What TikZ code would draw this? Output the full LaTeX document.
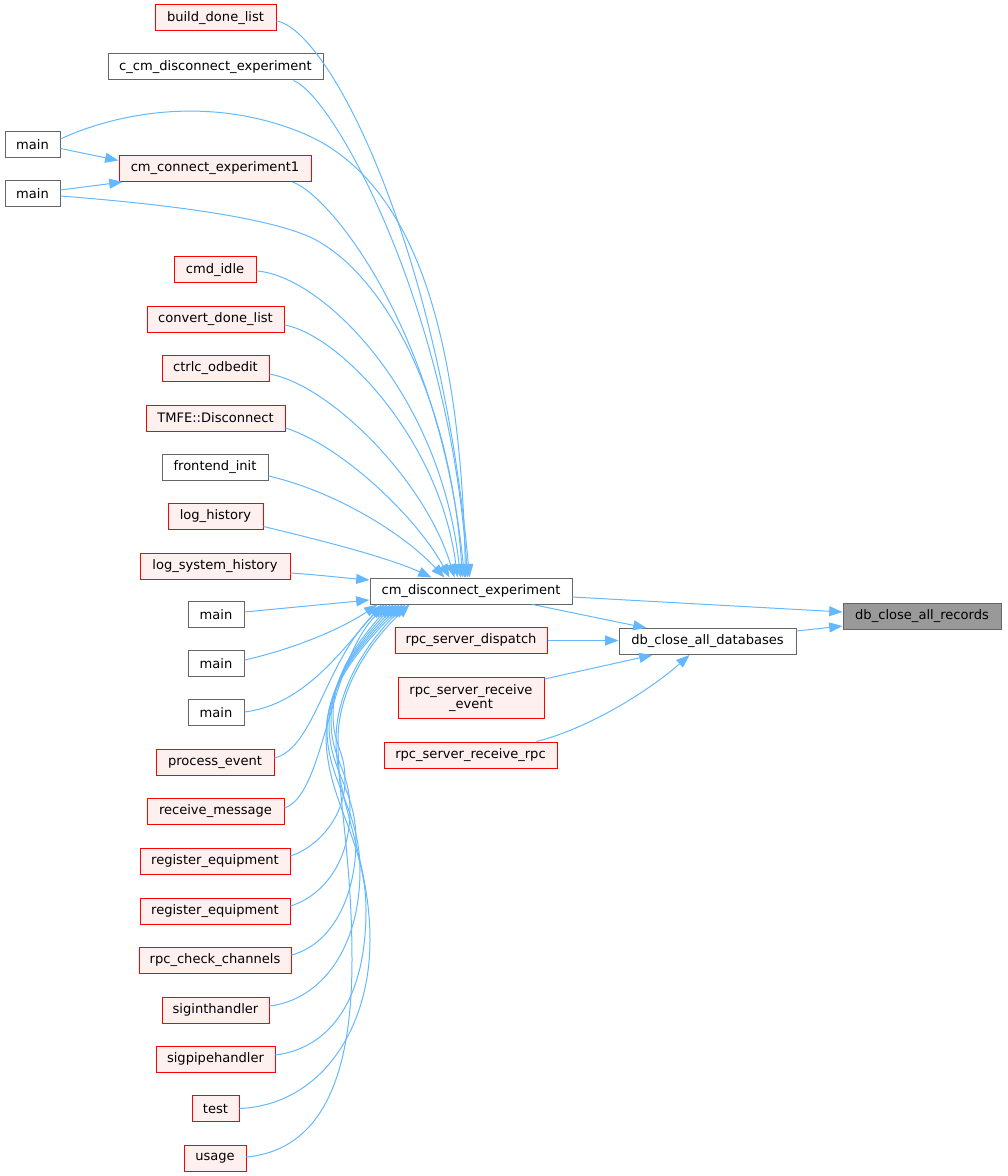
\documentclass[tikz,border=0pt]{standalone}
\usepackage{fontspec}
\setmainfont{DejaVu Sans}
\usetikzlibrary{arrows.meta,calc}
\definecolor{edgeblue}{HTML}{63B8FF}
\definecolor{redfill}{HTML}{FFF0F0}
\definecolor{redline}{HTML}{FF0000}
\definecolor{greyforty}{HTML}{666666}
\definecolor{greysixty}{HTML}{999999}
\newcommand{\fnfont}{\fontsize{9.8}{11}\selectfont}
\tikzset{
  fnbase/.style={line width=0.75pt, minimum height=19.5pt, inner sep=0pt, font=\fnfont, text=black, align=center},
  fnred/.style={fnbase, draw=redline, fill=redfill},
  fngrey/.style={fnbase, draw=greyforty, fill=white},
  fnroot/.style={fnbase, draw=greyforty, fill=greysixty},
  call/.style={draw=edgeblue, line width=0.75pt, -{Triangle[length=10pt,width=7.5pt]}, edgeblue}
}
\begin{document}
\begin{tikzpicture}[x=0.75pt,y=-0.75pt]
\useasboundingbox (0,0) rectangle (1007,1176);
% left column
\node[fnred,  minimum width=90.75pt]  (build)    at (215.5,18)   {build\_done\_list};
\node[fngrey, minimum width=161.25pt] (ccm)      at (215.5,67)   {c\_cm\_disconnect\_experiment};
\node[fngrey, minimum width=41.25pt]  (mainA)    at (32.5,144.5) {main};
\node[fnred,  minimum width=144pt]    (cmc)      at (215,168.5)  {cm\_connect\_experiment1};
\node[fngrey, minimum width=41.25pt]  (mainB)    at (32.5,194)   {main};
\node[fnred,  minimum width=61.5pt]   (idle)     at (215,270)    {cmd\_idle};
\node[fnred,  minimum width=102.75pt] (convert)  at (215.5,319.5) {convert\_done\_list};
\node[fnred,  minimum width=80.25pt]  (ctrlc)    at (215.5,368.5) {ctrlc\_odbedit};
\node[fnred,  minimum width=104.25pt] (tmfe)     at (215.5,418)  {TMFE::Disconnect};
\node[fngrey, minimum width=79.5pt]   (frontend) at (215,467)    {frontend\_init};
\node[fnred,  minimum width=71.25pt]  (loghist)  at (215.5,516.5) {log\_history};
\node[fnred,  minimum width=112.5pt]  (logsys)   at (215,566)    {log\_system\_history};
\node[fngrey, minimum width=42pt]     (mainC)    at (216,614.5)  {main};
\node[fngrey, minimum width=42pt]     (mainD)    at (216,663.5)  {main};
\node[fngrey, minimum width=42pt]     (mainE)    at (216,712.5)  {main};
\node[fnred,  minimum width=88.5pt]   (process)  at (215,762.5)  {process\_event};
\node[fnred,  minimum width=102.75pt] (receive)  at (215.5,811.5) {receive\_message};
\node[fnred,  minimum width=112.5pt]  (regA)     at (215,861)    {register\_equipment};
\node[fnred,  minimum width=112.5pt]  (regB)     at (215,911)    {register\_equipment};
\node[fnred,  minimum width=114pt]    (rpccheck) at (215,960.5)  {rpc\_check\_channels};
\node[fnred,  minimum width=80.25pt]  (sigint)   at (215.5,1010) {siginthandler};
\node[fnred,  minimum width=89.25pt]  (sigpipe)  at (215.5,1059) {sigpipehandler};
\node[fnred,  minimum width=35.25pt]  (test)     at (215.5,1108.5) {test};
\node[fnred,  minimum width=46.5pt]   (usage)    at (215,1158)   {usage};
% middle and right
\node[fngrey, minimum width=151.5pt]  (cmd)      at (471,591)    {cm\_disconnect\_experiment};
\node[fnred,  minimum width=114pt]    (rsd)      at (471,640.5)  {rpc\_server\_dispatch};
\node[fnred,  minimum width=109.5pt, minimum height=30.75pt] (rsre) at (471,698) {rpc\_server\_receive\\\_event};
\node[fnred,  minimum width=129.75pt] (rsrr)     at (470.5,755)  {rpc\_server\_receive\_rpc};
\node[fngrey, minimum width=132.75pt] (dbcad)    at (707.5,641.5) {db\_close\_all\_databases};
\node[fnroot, minimum width=118.5pt]  (dbcar)    at (922,616)    {db\_close\_all\_records};

% edges to db_close_all_records / db_close_all_databases
\draw[call] ($(cmd.east)+(0,6)$) -- ($(dbcar.west)+(0,-4)$);
\draw[call] ($(dbcad.east)+(0,-10.5)$) -- ($(dbcar.west)+(0,10)$);
\draw[call] ($(cmd.south east)+(-40,0)$) -- ($(dbcad.north west)+(28,0)$);
\draw[call] (rsd.east) -- (rsd.east -| dbcad.west);
\draw[call] ($(rsre.north east)+(0,2)$) -- ($(dbcad.south west)+(34,0)$);
\draw[call] ($(rsrr.north east)+(-21,0)$) .. controls (590,728) and (650,690) .. ($(dbcad.south west)+(71,0)$);

% main -> cm_connect_experiment1
\draw[call] ($(mainA.east)+(0,4)$) -- ($(cmc.west)+(0,-8)$);
\draw[call] ($(mainB.east)+(0,-4)$) -- ($(cmc.south west)+(4,0)$);

% top group into cm_disconnect_experiment
\draw[call] ($(build.east)+(0,3)$) .. controls (330,30) and (440,250) .. ($(cmd.north west)+(100,0)$);
\draw[call] ($(ccm.south east)+(-30,0)$) .. controls (335,97) and (450,310) .. ($(cmd.north west)+(98,0)$);
\draw[call] ($(mainA.east)+(0,-5.5)$) .. controls (105,118) and (200,92) .. (300,132) .. controls (400,172) and (460,300) .. ($(cmd.north west)+(96,0)$);
\draw[call] ($(cmc.south east)+(-19,0)$) .. controls (330,195) and (440,330) .. ($(cmd.north west)+(95,0)$);
\draw[call] ($(mainB.east)+(0,2)$) .. controls (150,203) and (260,215) .. (310,237) .. controls (380,270) and (450,390) .. ($(cmd.north west)+(93,0)$);
\draw[call] ($(idle.east)+(0,1)$) .. controls (320,275) and (440,390) .. ($(cmd.north west)+(91,0)$);
\draw[call] ($(convert.east)+(0,5.5)$) .. controls (340,335) and (440,440) .. ($(cmd.north west)+(88,0)$);
\draw[call] ($(ctrlc.east)+(0,5.5)$) .. controls (330,385) and (425,480) .. ($(cmd.north west)+(85,0)$);
\draw[call] ($(tmfe.east)+(0,10)$) .. controls (340,445) and (415,515) .. ($(cmd.north west)+(80,0)$);
\draw[call] ($(frontend.east)+(0,9)$) .. controls (330,490) and (400,530) .. ($(cmd.north west)+(75,0)$);
\draw[call] ($(loghist.east)+(0,10)$) .. controls (320,540) and (390,558) .. ($(cmd.north west)+(62,0)$);

% side entries
\draw[call] ($(logsys.east)+(0,7)$) .. controls (320,575) and (345,578) .. ($(cmd.west)+(0,-11)$);
\draw[call] ($(mainC.east)+(0,-2.5)$) -- ($(cmd.west)+(0,9)$);

% bottom group into cm_disconnect_experiment
\draw[call] ($(mainD.east)+(0,-3.5)$) .. controls (290,650) and (340,630) .. ($(cmd.south west)+(8,0)$);
\draw[call] ($(mainE.east)+(0,-0.5)$) .. controls (300,705) and (335,660) .. ($(cmd.south west)+(12,0)$);
\draw[call] ($(process.east)+(0,-4.5)$) .. controls (315,748) and (325,660) .. ($(cmd.south west)+(15,0)$);
\draw[call] ($(receive.east)+(0,-3.5)$) .. controls (325,795) and (328,660) .. ($(cmd.south west)+(18,0)$);
\draw[call] ($(regA.east)+(0,-5)$) .. controls (320,846) and (345,815) .. (345,780)
   .. controls (345,750) and (333,745) .. (333,715) .. controls (333,675) and (356,644) .. ($(cmd.south west)+(21,0)$);
\draw[call] ($(regB.east)+(0,-5)$) .. controls (325,895) and (350,860) .. (350,810)
   .. controls (350,770) and (331,760) .. (331,720) .. controls (331,678) and (358,644) .. ($(cmd.south west)+(24,0)$);
\draw[call] ($(rpccheck.east)+(0,-5.5)$) .. controls (330,945) and (356,900) .. (356,840)
   .. controls (356,790) and (329,770) .. (329,725) .. controls (329,680) and (360,644) .. ($(cmd.south west)+(27,0)$);
\draw[call] ($(sigint.east)+(0,-4)$) .. controls (320,1000) and (360,950) .. (360,870)
   .. controls (360,810) and (327,780) .. (327,730) .. controls (327,682) and (362,644) .. ($(cmd.south west)+(30,0)$);
\draw[call] ($(sigpipe.east)+(0,-4)$) .. controls (330,1048) and (366,1000) .. (366,910)
   .. controls (366,840) and (326,800) .. (326,735) .. controls (326,684) and (364,644) .. ($(cmd.south west)+(33,0)$);
\draw[call] (test.east) .. controls (320,1105) and (370,1030) .. (370,940)
   .. controls (370,860) and (336,800) .. (336,740) .. controls (336,690) and (366,644) .. ($(cmd.south west)+(36,0)$);
\draw[call] ($(usage.east)+(0,-1)$) .. controls (320,1150) and (352,1080) .. (352,960)
   .. controls (352,860) and (338,800) .. (338,740) .. controls (338,690) and (368,644) .. ($(cmd.south west)+(40,0)$);
\end{tikzpicture}
\end{document}
